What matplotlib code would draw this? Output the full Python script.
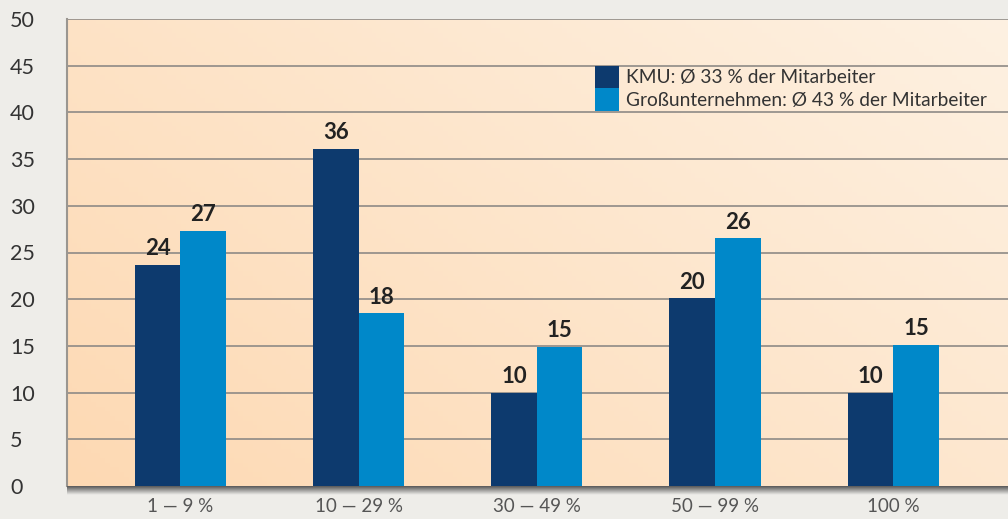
import numpy as np
import matplotlib.pyplot as plt
from matplotlib.colors import LinearSegmentedColormap

categories = ["1 — 9 %", "10 — 29 %", "30 — 49 %", "50 — 99 %", "100 %"]
kmu = [23.7, 36.1, 10.0, 20.1, 10.0]
gross = [27.3, 18.5, 14.9, 26.5, 15.1]
kmu_labels = ["24", "36", "10", "20", "10"]
gross_labels = ["27", "18", "15", "26", "15"]
legend_labels = ["KMU: Ø 33 % der Mitarbeiter", "Großunternehmen: Ø 43 % der Mitarbeiter"]

plt.rcParams['font.family'] = ['Lato', 'DejaVu Sans']

dark = "#0d3a6e"
light = "#0088c9"

fig = plt.figure(figsize=(10.08, 5.19), dpi=100)
fig.patch.set_facecolor("#eeede9")
ax = fig.add_axes([67/1008, 33/519, 1 - 67/1008 + 0.01, 467/519])

xlim = (-0.636, 4.7)
ax.set_xlim(*xlim)
ax.set_ylim(0, 50)

# background gradient (bottom-left warm to top-right pale)
gx, gy = np.meshgrid(np.linspace(0, 1, 200), np.linspace(0, 1, 100))
grad = 0.6 * gx + 0.4 * gy
cmap = LinearSegmentedColormap.from_list("bg", ["#fdd9b3", "#fef1e2"])
ax.imshow(grad, cmap=cmap, extent=[xlim[0], xlim[1], 0, 50], origin="lower",
          aspect="auto", zorder=0)

for y in range(5, 51, 5):
    ax.axhline(y, color="#8e8a86", lw=1.2, zorder=1)

x = np.arange(len(categories))
w = 0.256
b1 = ax.bar(x - w/2, kmu, w, color=dark, zorder=2, label=legend_labels[0])
b2 = ax.bar(x + w/2, gross, w, color=light, zorder=2, label=legend_labels[1])

for bars, labs in ((b1, kmu_labels), (b2, gross_labels)):
    for r, t in zip(bars, labs):
        ax.text(r.get_x() + r.get_width()/2, r.get_height() + 0.6, t,
                ha="center", va="bottom", fontsize=16, fontweight="bold",
                color="#222222", zorder=3)

ax.set_xticks(x)
ax.set_xticklabels(categories, fontsize=13.5, color="#555555")
ax.set_yticks(range(0, 51, 5))
ax.tick_params(axis="x", length=0, pad=9)
ax.tick_params(axis="y", length=0, pad=41, labelsize=15.5, labelcolor="#333333")
for lab in ax.get_yticklabels():
    lab.set_horizontalalignment("left")

for s in ["top", "right", "bottom"]:
    ax.spines[s].set_visible(False)
ax.spines["left"].set_color("#9a9690")
ax.spines["left"].set_linewidth(1.5)

# shadow under the x axis
sh = fig.add_axes([67/1008, 24/519, 1 - 67/1008, 9/519])
shade = np.linspace(0, 1, 20).reshape(-1, 1)
scmap = LinearSegmentedColormap.from_list("sh", ["#5a5a5a", "#eeede9"])
sh.imshow(shade, cmap=scmap, aspect="auto", extent=[0, 1, 0, 1])
sh.axis("off")

leg = ax.legend(loc="upper left", bbox_to_anchor=(0.5455, 0.92), frameon=False,
                fontsize=13.8, handlelength=1.22, handleheight=1.42,
                handletextpad=0.4, labelspacing=0.0, borderpad=0,
                labelcolor="#333333")

fig.savefig("out.png", dpi=100, facecolor=fig.get_facecolor())
